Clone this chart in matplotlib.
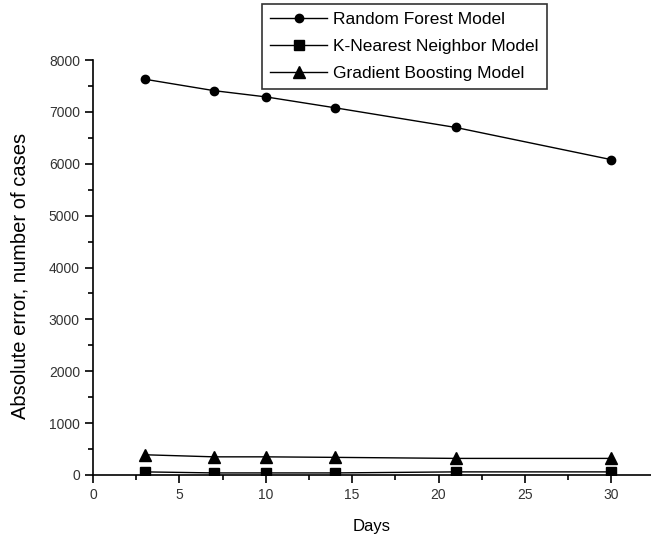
import matplotlib
matplotlib.use("Agg")
import matplotlib.pyplot as plt
from matplotlib.ticker import MultipleLocator

plt.rcParams['font.family'] = ['Liberation Sans', 'DejaVu Sans']

# Data
days = [3, 7, 10, 14, 21, 30]
random_forest = [7630, 7410, 7290, 7080, 6700, 6080]
knn = [60, 40, 40, 40, 60, 60]
gradient_boosting = [390, 350, 350, 340, 320, 320]

series_labels = ["Random Forest Model", "K-Nearest Neighbor Model", "Gradient Boosting Model"]

fig = plt.figure(figsize=(6.51, 5.41), dpi=100)
ax = fig.add_axes([0.143, 0.122, 0.857, 0.767])

ax.plot(days, random_forest, color="black", lw=1, marker="o", ms=6, label=series_labels[0])
ax.plot(days, knn, color="black", lw=1, marker="s", ms=6.5, label=series_labels[1])
ax.plot(days, gradient_boosting, color="black", lw=1, marker="^", ms=8, label=series_labels[2])

ax.set_xlim(0, 32.3)
ax.set_ylim(0, 8000)
ax.xaxis.set_major_locator(MultipleLocator(5))
ax.xaxis.set_minor_locator(MultipleLocator(2.5))
ax.yaxis.set_major_locator(MultipleLocator(1000))
ax.yaxis.set_minor_locator(MultipleLocator(500))

for side in ["top", "right"]:
    ax.spines[side].set_visible(False)
ax.spines["left"].set_linewidth(1.2)
ax.spines["bottom"].set_linewidth(1.2)

ax.tick_params(which="major", direction="out", length=6, width=1.2, labelsize=10, colors="black",
               labelcolor="#333333")
ax.tick_params(which="minor", direction="out", length=3.5, width=1.2)

ax.set_xlabel("Days", fontsize=12, labelpad=12)
ax.set_ylabel("Absolute error, number of cases", fontsize=14.5, labelpad=8)
ax.yaxis.set_label_coords(-0.114, 0.48)

leg = ax.legend(loc="upper left", bbox_to_anchor=(0.303, 1.135), frameon=True, fancybox=False,
                edgecolor="black", fontsize=12.5, handlelength=3.3, borderpad=0.45,
                labelspacing=0.68, handletextpad=0.35, borderaxespad=0)
leg.get_frame().set_linewidth(1.2)

fig.savefig("out.png", dpi=100)
